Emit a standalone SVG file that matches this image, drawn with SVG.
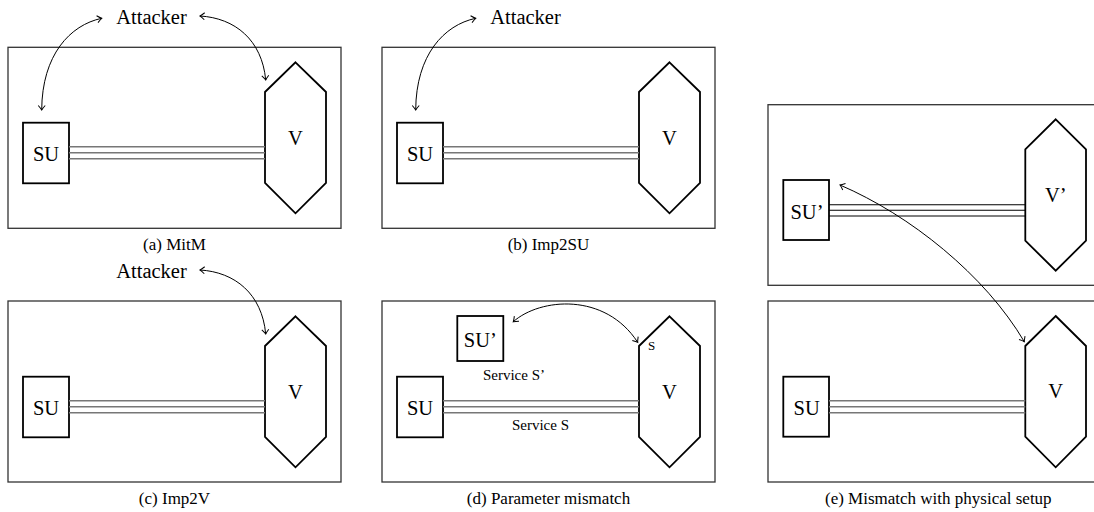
<svg xmlns="http://www.w3.org/2000/svg" width="1094" height="512" viewBox="0 0 1094 512">
<style>
.panel{fill:none;stroke:#333;stroke-width:1.3}
.box{fill:#fff;stroke:#000;stroke-width:1.8}
.hex{fill:#fff;stroke:#000;stroke-width:1.8;stroke-linejoin:miter}
.bus{stroke:#777;stroke-width:1.6;fill:none}
.busk{stroke:#000;stroke-width:1.1;fill:none}
.big{font-family:"Liberation Serif","Times New Roman",serif;font-size:20.5px;fill:#000;text-anchor:middle}
.cap{font-family:"Liberation Serif","Times New Roman",serif;font-size:17px;fill:#000;text-anchor:middle}
.small{font-family:"Liberation Serif","Times New Roman",serif;font-size:15px;fill:#000;text-anchor:middle}
.arc{fill:none;stroke:#000;stroke-width:1;marker-start:url(#tip);marker-end:url(#tip)}
</style>
<defs>
<marker id="tip" viewBox="-6 -5 8 10" markerWidth="8" markerHeight="10" refX="0" refY="0" orient="auto-start-reverse" markerUnits="userSpaceOnUse">
<path d="M -4.5 -3.5 Q -1.5 -0.8 0 0 Q -1.5 0.8 -4.5 3.5" fill="none" stroke="#000" stroke-width="1"/>
</marker>
</defs>

<!-- (a) MitM -->
<g id="panel-a">
<rect class="panel" x="8" y="47.3" width="333" height="181"/>
<text class="cap" x="174.5" y="250">(a) MitM</text>
</g>
<g id="a-attacker"><text class="big" x="151.5" y="24">Attacker</text></g>
<g id="a-su"><rect class="box" x="23" y="122.7" width="46" height="60.6"/><text class="big" x="46" y="160.5">SU</text></g>
<g id="a-v"><polygon class="hex" points="295.5,62.3 326,92 326,183 295.5,213.3 265,183 265,92"/><text class="big" x="295.5" y="145">V</text></g>

<!-- (b) Imp2SU -->
<g id="panel-b">
<rect class="panel" x="382" y="47.3" width="333" height="181"/>
<text class="cap" x="548.5" y="250">(b) Imp2SU</text>
</g>
<g id="b-attacker"><text class="big" x="525.5" y="24">Attacker</text></g>
<g id="b-su"><rect class="box" x="397" y="122.7" width="46" height="60.6"/><text class="big" x="420" y="160.5">SU</text></g>
<g id="b-v"><polygon class="hex" points="669.5,62.3 700,92 700,183 669.5,213.3 639,183 639,92"/><text class="big" x="669.5" y="145">V</text></g>

<!-- (c) Imp2V -->
<g id="panel-c">
<rect class="panel" x="8" y="301" width="333" height="181"/>
<text class="cap" x="174.5" y="504">(c) Imp2V</text>
</g>
<g id="c-attacker"><text class="big" x="151.5" y="278">Attacker</text></g>
<g id="c-su"><rect class="box" x="23" y="376.7" width="46" height="60.6"/><text class="big" x="46" y="414.5">SU</text></g>
<g id="c-v"><polygon class="hex" points="295.5,316.3 326,346 326,437 295.5,467.3 265,437 265,346"/><text class="big" x="295.5" y="399">V</text></g>

<!-- (d) Parameter mismatch -->
<g id="panel-d">
<rect class="panel" x="382" y="301" width="333" height="181"/>
<text class="cap" x="548.5" y="504">(d) Parameter mismatch</text>
</g>
<g id="d-su2"><rect class="box" x="457.3" y="316" width="46" height="45"/><text class="big" x="480.3" y="346.5">SU’</text></g>
<g id="d-su"><rect class="box" x="397" y="376.7" width="46" height="60.6"/><text class="big" x="420" y="414.5">SU</text></g>
<g id="d-v"><polygon class="hex" points="669.5,316.3 700,346 700,437 669.5,467.3 639,437 639,346"/><text class="big" x="669.5" y="399">V</text><text x="648" y="350" font-family="Liberation Serif, Times New Roman, serif" font-size="13" fill="#000">S</text></g>
<g id="d-labels"><text class="small" x="514" y="380">Service S’</text><text class="small" x="540.5" y="430">Service S</text></g>

<!-- (e) Mismatch with physical setup -->
<g id="panel-e">
<rect class="panel" x="768" y="104.7" width="340" height="180.6"/>
<rect class="panel" x="768" y="301" width="340" height="181"/>
<text class="cap" x="938.3" y="504">(e) Mismatch with physical setup</text>
</g>
<g id="e-su2"><rect class="box" x="783.3" y="180" width="45.7" height="60"/><text class="big" x="807" y="218.5">SU’</text></g>
<g id="e-v2"><polygon class="hex" points="1055.7,119.3 1086,149.3 1086,240.7 1055.7,270.7 1025.3,240.7 1025.3,149.3"/><text class="big" x="1055.7" y="201.5">V’</text></g>
<g id="e-su"><rect class="box" x="783.3" y="376.7" width="45.7" height="60"/><text class="big" x="806.7" y="414.5">SU</text></g>
<g id="e-v"><polygon class="hex" points="1055.7,316 1086,346 1086,436.7 1055.7,467.3 1025.3,436.7 1025.3,346"/><text class="big" x="1055.7" y="398">V</text></g>

<g id="connectors">
<!-- buses -->
<path class="bus" d="M69 146.7H265M69 152.7H265M69 158.7H265"/>
<path class="bus" d="M443 146.7H639M443 152.7H639M443 158.7H639"/>
<path class="bus" d="M69 400.7H265M69 406.7H265M69 412.7H265"/>
<path class="bus" d="M443 400.7H639M443 406.7H639M443 412.7H639"/>
<path class="busk" d="M829 204.7H1025.3M829 210.3H1025.3M829 216H1025.3"/>
<path class="bus" d="M829 400.7H1025.3M829 406.7H1025.3M829 412.7H1025.3"/>
<!-- attack arcs -->
<path class="arc" d="M101.7 18.3C70 25 42 55 41.7 110"/>
<path class="arc" d="M200 16C235 18 262 40 265.7 80"/>
<path class="arc" d="M475.7 18.3C444 25 416 55 415.7 110"/>
<path class="arc" d="M200 270C235 272 262 294 265.7 334"/>
<path class="arc" d="M513.3 321.7C540 298 605 292 637.7 342.3"/>
<path class="arc" d="M840 185C910 215 985 275 1024.3 341.7"/>
</g>
</svg>
